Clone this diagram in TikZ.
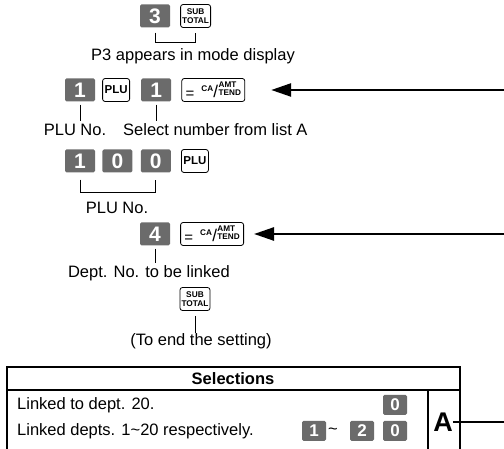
\documentclass[tikz,border=0pt]{standalone}
\usepackage{fontspec}
\setmainfont{Liberation Sans}
\usepackage{tikz}
\usetikzlibrary{arrows.meta,positioning}
\definecolor{keygray}{HTML}{6B6B6B}
\newcommand{\catend}{\raisebox{-3pt}{\fontsize{15}{15}\selectfont\mdseries=}\hspace{7pt}\raisebox{3.5pt}{CA}\hspace{0.2pt}\raisebox{-2.5pt}{\fontsize{17}{17}\selectfont\mdseries/}\hspace{0.4pt}\shortstack[l]{AMT\\[-0.5pt]TEND}}

\begin{document}
\begin{tikzpicture}[x=1pt,y=1pt,
  node distance=8pt,
  every node/.style={font=\fontsize{16.5}{18}\selectfont,inner sep=0pt},
  numkey/.style={fill=keygray,rounded corners=1.5pt,text=white,minimum width=30pt,minimum height=23pt,font=\bfseries\fontsize{21}{21}\selectfont},
  smallkey/.style={numkey,minimum width=24pt,minimum height=20pt,font=\bfseries\fontsize{17}{17}\selectfont},
  fnkey/.style={draw,line width=0.8pt,fill=white,rounded corners=2.5pt,minimum height=23pt,align=center,font=\bfseries\fontsize{8.3}{8.6}\selectfont},
  plukey/.style={fnkey,minimum width=27pt,font=\bfseries\fontsize{11.5}{11.5}\selectfont},
  camkey/.style={fnkey,minimum width=63pt,font=\bfseries\fontsize{8.2}{8.2}\selectfont},
  feed/.style={line width=2.5pt,-{Triangle[length=20pt,width=13pt]}},
  guide/.style={line width=0.8pt},
  tbl/.style={line width=1.3pt}
]
\useasboundingbox (0,0) rectangle (504,449);

\node[numkey] (k3) at (155,433) {3};
\node[fnkey,minimum width=30pt,right=10pt of k3] (st1) {SUB\\TOTAL};
\draw[guide] ([yshift=-5pt]k3.south) -- ++(0,-10) -| ([yshift=-5pt]st1.south);
\node (p3) at (193,393) {P3 appears in mode display};

\node[numkey] (k1a) at (80,359) {1};
\node[plukey,right=7pt of k1a] (plu1) {PLU};
\node[numkey,right=11pt of plu1] (k1b) {1};
\node[camkey,right=10pt of k1b] (ca1) {\catend};
\coordinate (r2) at (504,359);
\draw[feed] (r2) -- ([xshift=26pt]ca1.east);
\draw[guide] ([yshift=-3pt]k1a.south) -- ++(0,-16);
\draw[guide] ([yshift=-3pt]k1b.south) -- ++(0,-16);
\node (plun1) at (75,319) {PLU No.};
\node[anchor=west] (sel) at (123,319) {Select number from list A};

\node[numkey] (k1c) at (80,288) {1};
\node[numkey,right=7pt of k1c] (k0a) {0};
\node[numkey,right=of k0a] (k0b) {0};
\node[plukey,right=10pt of k0b] (plu2) {PLU};
\draw[guide] ([yshift=-7pt]k1c.south) -- ++(0,-13) -| ([yshift=-7pt]k0b.south);
\node (plun2) at (117,241) {PLU No.};

\node[numkey] (k4) at (155,215) {4};
\node[camkey,right=10pt of k4] (ca2) {\catend};
\coordinate (r4) at (504,215);
\draw[feed] (r4) -- ([xshift=10pt]ca2.east);
\draw[guide] ([yshift=-3pt]k4.south) -- ++(0,-14);
\node[anchor=east] (dept) at (230,176) {Dept. No. to be linked};

\node[fnkey,minimum width=30pt] (st2) at (195,150) {SUB\\TOTAL};
\draw[guide] ([yshift=-5pt]st2.south) -- ++(0,-17);
\node (endset) at (201,108) {(To end the setting)};

\draw[tbl] (7,0) -- (7,82) -- (460,82) -- (460,0);
\draw[tbl] (7,59) -- (460,59);
\draw[tbl] (428,59) -- (428,0);
\node[font=\bfseries\fontsize{16.5}{16.5}\selectfont] (selhead) at (233,70) {Selections};
\node[anchor=west] (opt1) at (17,44) {Linked to dept. 20.};
\node[anchor=west] (opt2) at (17,18) {Linked depts. 1\textasciitilde20 respectively.};
\node[smallkey] (s0a) at (395,44) {0};
\node[smallkey] (s1) at (314,18) {1};
\node (tld) at (333,18) {\textasciitilde};
\node[smallkey] (s2) at (362,18) {2};
\node[smallkey] (s0b) at (395,18) {0};
\node[font=\bfseries\fontsize{27}{27}\selectfont] (la) at (443,27) {A};
\coordinate (ra) at (504,27);
\draw[line width=2pt] (la.east) -- (ra);
\end{tikzpicture}
\end{document}
